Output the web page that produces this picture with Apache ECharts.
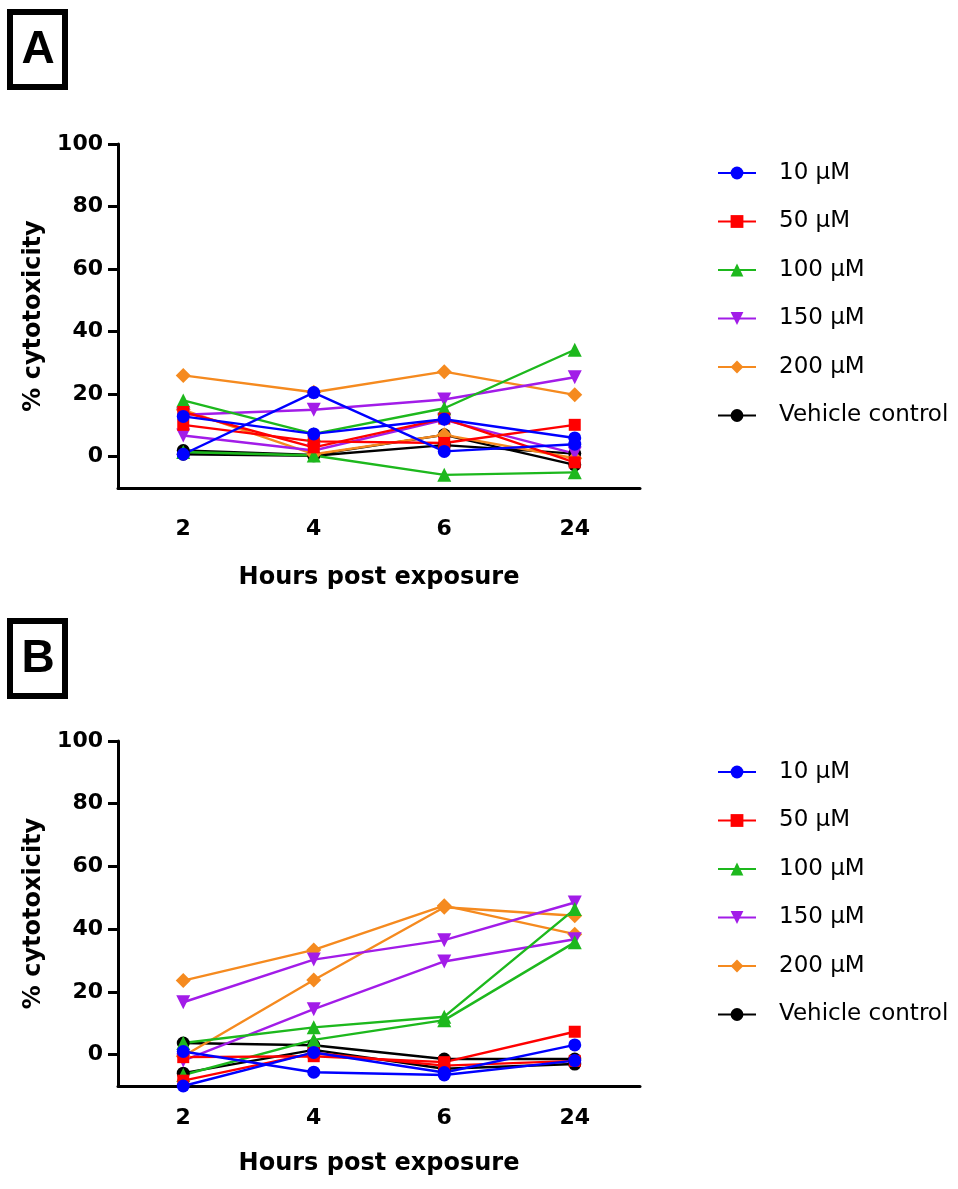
<!DOCTYPE html>
<html>
<head>
<meta charset="utf-8">
<script src="https://cdn.jsdelivr.net/npm/echarts@6/dist/echarts.min.js"></script>
<style>
  html, body { margin: 0; padding: 0; background: #ffffff; }
  #chart { width: 958px; height: 1189px; }
</style>
</head>
<body>
<div id="chart"></div>
<script>
// Sampling times (hours post exposure)
const hours = ['2', '4', '6', '24'];
const yTicks = [0, 20, 40, 60, 80, 100];
const treatments = ['10 μM', '50 μM', '100 μM', '150 μM', '200 μM', 'Vehicle control'];

// Panel A – % cytotoxicity, two replicate curves per treatment
const a10_r1 = [0.8, 20.5, 1.7, 4.0];
const a10_r2 = [12.9, 7.3, 12.0, 6.0];
const a50_r1 = [10.2, 4.9, 4.4, 10.2];
const a50_r2 = [14.3, 3.0, 12.2, -1.8];
const a100_r1 = [18.0, 7.3, 15.5, 34.2];
const a100_r2 = [1.5, 0.4, -5.8, -5.0];
const a150_r1 = [13.4, 15.0, 18.3, 25.4];
const a150_r2 = [6.8, 2.0, 11.8, 1.0];
const a200_r1 = [26.0, 20.6, 27.2, 19.8];
const a200_r2 = [15.0, 0.8, 7.0, -0.5];
const aVeh_r1 = [2.0, 0.6, 7.0, -2.6];
const aVeh_r2 = [0.8, 0.3, 3.7, 1.0];

// Panel B – % cytotoxicity, two replicate curves per treatment
const b10_r1 = [1.0, -5.6, -6.5, -1.9];
const b10_r2 = [-10.0, 0.7, -5.7, 3.1];
const b50_r1 = [-0.8, -0.5, -2.4, 7.3];
const b50_r2 = [-8.3, 0.5, -3.5, -2.0];
const b100_r1 = [3.7, 8.7, 12.1, 46.4];
const b100_r2 = [-6.5, 4.7, 11.0, 35.8];
const b150_r1 = [16.7, 30.3, 36.5, 48.5];
const b150_r2 = [-1.9, 14.5, 29.7, 36.8];
const b200_r1 = [23.6, 33.4, 47.5, 38.4];
const b200_r2 = [-0.5, 23.8, 47.0, 44.3];
const bVeh_r1 = [3.7, 3.0, -1.4, -1.4];
const bVeh_r2 = [-5.9, 1.5, -4.5, -3.0];

// Styling per treatment (drawn bottom-to-top: vehicle first, 10 µM last)
const styles = {
  '10 μM':           { color: '#0000ff', symbol: 'circle',   size: 13, rotate: 0 },
  '50 μM':           { color: '#ff0000', symbol: 'rect',     size: 12, rotate: 0 },
  '100 μM':          { color: '#1db81d', symbol: 'triangle', size: 14, rotate: 0 },
  '150 μM':          { color: '#a21ce8', symbol: 'triangle', size: 14, rotate: 180 },
  '200 μM':          { color: '#f58a1f', symbol: 'diamond',  size: 15, rotate: 0 },
  'Vehicle control': { color: '#000000', symbol: 'circle',   size: 13, rotate: 0 }
};

const panelA = [
  ['Vehicle control', aVeh_r1], ['Vehicle control', aVeh_r2],
  ['200 μM', a200_r1], ['200 μM', a200_r2],
  ['150 μM', a150_r1], ['150 μM', a150_r2],
  ['100 μM', a100_r1], ['100 μM', a100_r2],
  ['50 μM', a50_r1], ['50 μM', a50_r2],
  ['10 μM', a10_r1], ['10 μM', a10_r2]
];
const panelB = [
  ['Vehicle control', bVeh_r1], ['Vehicle control', bVeh_r2],
  ['200 μM', b200_r1], ['200 μM', b200_r2],
  ['150 μM', b150_r1], ['150 μM', b150_r2],
  ['100 μM', b100_r1], ['100 μM', b100_r2],
  ['50 μM', b50_r1], ['50 μM', b50_r2],
  ['10 μM', b10_r1], ['10 μM', b10_r2]
];

function makeSeries(list, idx) {
  return list.map(([name, values]) => {
    const s = styles[name];
    return {
      type: 'line',
      name: name,
      xAxisIndex: idx,
      yAxisIndex: idx,
      data: values,
      symbol: s.symbol,
      symbolSize: s.size,
      symbolRotate: s.rotate,
      showAllSymbol: true,
      lineStyle: { color: s.color, width: 2.4 },
      itemStyle: { color: s.color, borderWidth: 0 },
      emphasis: { disabled: true },
      animation: false
    };
  });
}

const boldFont = { fontFamily: 'DejaVu Sans', fontWeight: 'bold', color: '#000' };

function xAxisFor(idx, labelMargin, nameGap) {
  return {
    type: 'category',
    gridIndex: idx,
    data: hours,
    boundaryGap: true,
    axisLine: { onZero: false, lineStyle: { color: '#000', width: 3 } },
    axisTick: { alignWithLabel: true, length: 10, lineStyle: { color: '#000', width: 3 } },
    axisLabel: Object.assign({ fontSize: 22, margin: labelMargin }, boldFont),
    splitLine: { show: false },
    name: 'Hours post exposure',
    nameLocation: 'middle',
    nameGap: nameGap,
    nameTextStyle: Object.assign({ fontSize: 24 }, boldFont)
  };
}

function yAxisFor(idx) {
  return {
    type: 'value',
    gridIndex: idx,
    min: -10,
    max: 100,
    splitLine: { show: false },
    axisLine: { show: true, lineStyle: { color: '#000', width: 3 } },
    axisTick: { show: true, length: 10, lineStyle: { color: '#000', width: 3 }, customValues: yTicks },
    axisLabel: Object.assign({ fontSize: 22, margin: 15, customValues: yTicks }, boldFont),
    name: '% cytotoxicity',
    nameLocation: 'middle',
    nameRotate: 90,
    nameGap: 72,
    nameTextStyle: Object.assign({ fontSize: 24 }, boldFont)
  };
}

function legendFor(top) {
  return {
    orient: 'vertical',
    left: 712,
    top: top,
    data: treatments,
    itemWidth: 38,
    itemHeight: 16,
    itemGap: 24.5,
    selectedMode: false,
    textStyle: {
      fontFamily: 'DejaVu Sans',
      fontSize: 23,
      color: '#000',
      lineHeight: 24,
      padding: [0, 0, 0, 18]
    }
  };
}

function panelLabel(letter, top) {
  return [
    {
      type: 'rect',
      shape: { x: 10, y: top, width: 55, height: 75 },
      style: { fill: 'none', stroke: '#000', lineWidth: 6 }
    },
    {
      type: 'text',
      x: 38,
      y: top + 38,
      style: {
        text: letter,
        font: 'bold 46px "Liberation Sans", Arial, sans-serif',
        fill: '#000',
        align: 'center',
        verticalAlign: 'middle'
      }
    }
  ];
}

const chart = echarts.init(document.getElementById('chart'), null, { renderer: 'canvas' });
chart.setOption({
  backgroundColor: '#ffffff',
  animation: false,
  grid: [
    { left: 118, top: 144, width: 522, height: 344 },
    { left: 118, top: 741, width: 522, height: 345 }
  ],
  xAxis: [xAxisFor(0, 30, 78), xAxisFor(1, 21, 66)],
  yAxis: [yAxisFor(0), yAxisFor(1)],
  legend: [legendFor(156), legendFor(755)],
  series: makeSeries(panelA, 0).concat(makeSeries(panelB, 1)),
  graphic: panelLabel('A', 12).concat(panelLabel('B', 621))
});
</script>
</body>
</html>
